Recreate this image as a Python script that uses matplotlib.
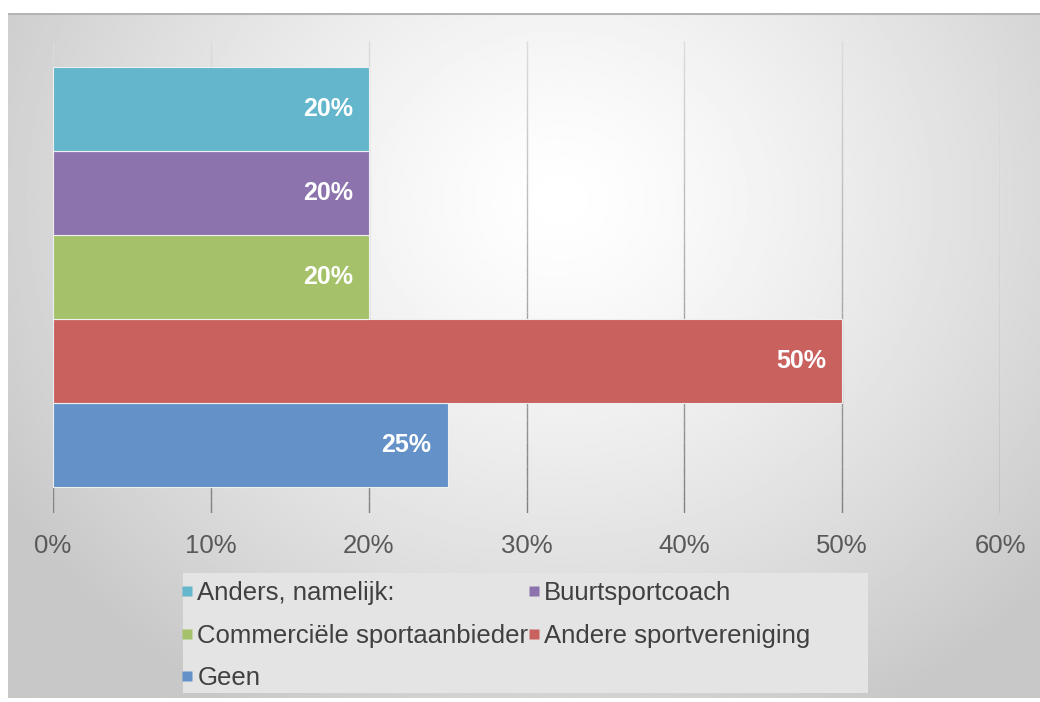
import numpy as np
import matplotlib.pyplot as plt
from matplotlib.collections import LineCollection
from matplotlib.lines import Line2D
from matplotlib.patches import Rectangle

plt.rcParams['font.family'] = ['Liberation Sans', 'DejaVu Sans']

# ---- data ----
categories = ["Geen", "Andere sportvereniging", "Commerciële sportaanbieder",
              "Buurtsportcoach", "Anders, namelijk:"]
values = [25, 50, 20, 20, 20]
colors = ["#6391c8", "#c9615f", "#a5c26b", "#8d73ad", "#63b6cc"]
x_ticks = [0, 10, 20, 30, 40, 50, 60]
tick_labels = [f"{t}%" for t in x_ticks]

W, H = 1040, 702
fig = plt.figure(figsize=(W / 100, H / 100), dpi=100)
fig.patch.set_facecolor('white')

# chart area background: soft radial gradient
bg = fig.add_axes([8 / W, 4 / H, 1 - 8 / W, (698 - 13) / H])
bg.set_axis_off()
gx, gy = np.meshgrid(np.linspace(8, W, 400), np.linspace(13, 698, 300))
r = np.sqrt(((gx - 560) / 620) ** 2 + ((gy - 200) / 560) ** 2)
shade = 255 - 52 * np.clip(r, 0, 1.05) ** 1.3
bg.imshow(shade, cmap='gray', vmin=0, vmax=255, aspect='auto',
          extent=[0, 1, 0, 1], interpolation='bilinear')
bg.set_xlim(0, 1)
bg.set_ylim(0, 1)
bg.plot([0, 1], [0.999, 0.999], color='#b4b4b4', lw=1.5, transform=bg.transAxes)

# main plot
ax = fig.add_axes([53 / W, (H - 513) / H, (1000 - 53) / W, (513 - 41) / H])
ax.set_facecolor('none')
for s in ax.spines.values():
    s.set_visible(False)

ypos = np.arange(len(categories))
bars = ax.barh(ypos, values, height=1.0, color=colors, edgecolor='#eef0f0',
               linewidth=0.8, zorder=3)
ax.set_xlim(0, 60)
ax.set_ylim(-0.81, 4.81)

# gradient gridlines (light at top, darker at bottom)
n = 40
ys = np.linspace(0, 1, n + 1)
for t in x_ticks:
    segs = [[(t, ys[i]), (t, ys[i + 1])] for i in range(n)]
    cols = [plt.cm.gray(0.5 + 0.36 * ((ys[i] + ys[i + 1]) / 2)) for i in range(n)]
    lc = LineCollection(segs, colors=cols, linewidths=1.0, zorder=1,
                        transform=ax.get_xaxis_transform())
    ax.add_collection(lc)

for y, v in zip(ypos, values):
    ax.annotate(f"{v}%", (v, y), xytext=(-11.5, 0), textcoords='offset points',
                ha='right', va='center', color='white', fontsize=18,
                fontweight='bold', zorder=4)

ax.set_xticks(x_ticks)
ax.set_xticklabels(tick_labels)
ax.set_yticks([])
ax.tick_params(axis='x', length=0, pad=15, labelsize=18.5, labelcolor='#595959')

# legend
fig.patches.append(Rectangle((183 / W, (H - 693) / H), (868 - 183) / W, 120 / H,
                             transform=fig.transFigure, facecolor='#e4e4e4',
                             edgecolor='none', zorder=0))
order = [4, 2, 0, 3, 1]
handles = [Line2D([], [], marker='s', linestyle='none', markersize=6.5,
                  markerfacecolor=colors[i], markeredgecolor='none') for i in order]
labels = [categories[i] for i in order]
fig.legend(handles, labels, loc='upper left', bbox_to_anchor=(182 / W, (H - 581) / H),
           ncol=2, frameon=False, fontsize=18.5, handlelength=0.4, handletextpad=0.2,
           columnspacing=0.0, labelspacing=0.72, borderpad=0, labelcolor='#404040',
           borderaxespad=0)

fig.savefig('out.png', dpi=100)
